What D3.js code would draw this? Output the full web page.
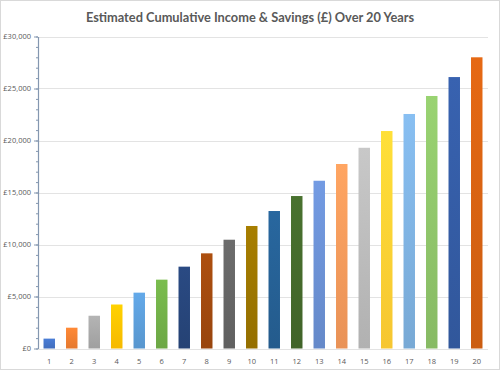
<!DOCTYPE html>
<html>
<head>
<meta charset="utf-8">
<script src="https://cdn.jsdelivr.net/npm/d3@7"></script>
<style>
  body { margin: 0; background: #fff; }
  svg { display: block; }
</style>
</head>
<body>
<div id="chart"></div>
<script>
// years and cumulative totals
const years = ["1","2","3","4","5","6","7","8","9","10","11","12","13","14","15","16","17","18","19","20"];
const totals = [950, 2000, 3150, 4230, 5370, 6620, 7870, 9150, 10460, 11780,
                13220, 14660, 16130, 17740, 19300, 20910, 22550, 24280, 26100, 28000];
const barColors = ["#4472C4","#ED7D31","#A5A5A5","#FFC000","#5B9BD5","#70AD47","#264478","#9E480E","#636363","#997300",
                   "#255E91","#43682B","#698ED0","#F1975A","#B7B7B7","#FFCD33","#7CAFDD","#8CC168","#335AA1","#D26012"];
const yTicks = [0, 5000, 10000, 15000, 20000, 25000, 30000];

const width = 500, height = 370;
const margin = {top: 36.5, right: 12, bottom: 21.5, left: 38};

const svg = d3.select("#chart")
  .append("svg")
    .attr("width", width)
    .attr("height", height);

// outer border
svg.append("rect")
  .attr("x", 0.5).attr("y", 0.5)
  .attr("width", width - 1).attr("height", height - 1)
  .attr("fill", "#fff")
  .attr("stroke", "#d9d9d9");

// gradients for the bars
const defs = svg.append("defs");
barColors.forEach(function(c, i) {
  const g = defs.append("linearGradient")
    .attr("id", "grad" + i)
    .attr("x1", 0).attr("y1", 0).attr("x2", 0).attr("y2", 1);
  g.append("stop").attr("offset", "0%").attr("stop-color", d3.color(c).brighter(0.25));
  g.append("stop").attr("offset", "100%").attr("stop-color", d3.color(c).darker(0.1));
});

const x = d3.scaleBand()
  .domain(years)
  .range([margin.left, width - margin.right])
  .paddingInner(0.49)
  .paddingOuter(0.245);

const y = d3.scaleLinear()
  .domain([0, 30000])
  .range([height - margin.bottom, margin.top]);

// title
svg.append("text")
  .attr("x", 250)
  .attr("y", 21.5)
  .attr("text-anchor", "middle")
  .style("font-family", "Lato, 'Open Sans', sans-serif")
  .style("font-size", "12.8px")
  .style("font-weight", "bold")
  .style("fill", "#595959")
  .text("Estimated Cumulative Income & Savings (£) Over 20 Years");

// gridlines
svg.append("g")
  .selectAll("line")
  .data(yTicks)
  .join("line")
    .attr("x1", margin.left)
    .attr("x2", width - margin.right)
    .attr("y1", d => Math.round(y(d)) + 0.5)
    .attr("y2", d => Math.round(y(d)) + 0.5)
    .attr("stroke", "#e3e3e3");

// bars
svg.append("g")
  .selectAll("rect")
  .data(totals)
  .join("rect")
    .attr("x", (d, i) => x(years[i]))
    .attr("y", d => y(d))
    .attr("width", x.bandwidth())
    .attr("height", d => y(0) - y(d))
    .attr("fill", (d, i) => "url(#grad" + i + ")");

// minor ticks on y axis
const minor = d3.axisLeft(y)
  .tickValues(d3.range(0, 30001, 1000))
  .tickSize(2)
  .tickFormat("");
svg.append("g")
  .attr("transform", `translate(${margin.left},0)`)
  .call(minor)
  .call(g => g.select(".domain").remove())
  .selectAll("line").attr("stroke", "#8497b0");

// y axis
const fmt = d3.format(",");
const yAxis = svg.append("g")
  .attr("transform", `translate(${margin.left},0)`)
  .call(d3.axisLeft(y).tickValues(yTicks).tickSize(4).tickSizeOuter(0).tickPadding(3)
    .tickFormat(d => "£" + fmt(d)));
yAxis.select(".domain").attr("stroke", "#8497b0").attr("stroke-width", 1.2);
yAxis.selectAll("line").attr("stroke", "#8497b0");
yAxis.selectAll("text")
  .style("font-family", "'Open Sans', sans-serif")
  .style("font-size", "7.5px")
  .style("fill", "#595959");

// x axis labels
const xAxis = svg.append("g")
  .attr("transform", `translate(0,${height - margin.bottom})`)
  .call(d3.axisBottom(x).tickSize(0).tickPadding(10));
xAxis.select(".domain").remove();
xAxis.selectAll("text")
  .style("font-family", "'Open Sans', sans-serif")
  .style("font-size", "7.5px")
  .style("fill", "#595959");
</script>
</body>
</html>
